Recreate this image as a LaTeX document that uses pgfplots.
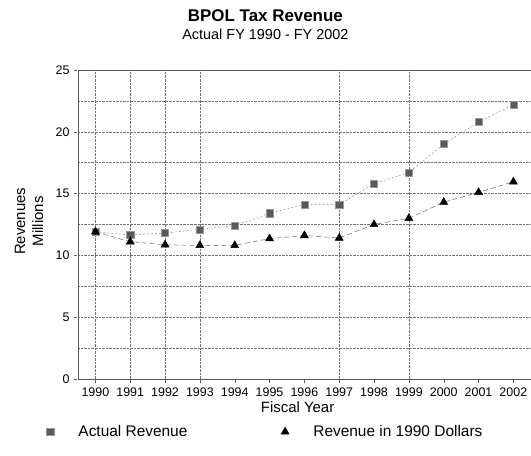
\documentclass[border=0pt]{standalone}
\usepackage{fontspec}
\setmainfont{Liberation Sans}
\usepackage{pgfplots}
\pgfplotsset{compat=1.18}
\begin{document}
\begin{tikzpicture}
\pgfplotstableread{
year actual real
1990 11.9 11.9
1991 11.65 11.1
1992 11.8 10.85
1993 12.1 10.8
1994 12.4 10.8
1995 13.4 11.35
1996 14.1 11.6
1997 14.1 11.4
1998 15.8 12.5
1999 16.7 13.0
2000 19.0 14.3
2001 20.8 15.1
2002 22.2 15.95
}\datatable
\begin{axis}[
  at={(0,0)}, anchor=south west,
  scale only axis, width=453bp, height=309bp,
  xmin=1989.5, xmax=2002.5, ymin=0, ymax=25,
  xtick={1990,...,2002},
  /pgf/number format/1000 sep={},
  /pgf/number format/assume math mode=true,
  ytick={0,5,...,25},
  minor ytick={2.5,7.5,...,22.5},
  ymajorgrids, yminorgrids,
  grid style={densely dotted, black!55, line width=0.4pt},
  minor grid style={densely dotted, black!55, line width=0.4pt},
  extra x ticks={1990,1991,1992,1993,1997,1999},
  extra x tick labels={},
  extra x tick style={grid=major},
  axis line style={black!65},
  major tick length=4bp, minor tick length=0pt,
  xtick style={black!65},
  ytick style={densely dotted, black!60},
  tick align=outside,
  tick pos=left,
  ticklabel style={font=\fontsize{12.5}{15}\selectfont},
  xticklabel style={yshift=-1bp},
  yticklabel style={xshift=-1bp},
  xlabel={Fiscal Year},
  xlabel style={at={(axis description cs:0.485,-0.092)}, anchor=center, font=\fontsize{15}{18}\selectfont},
  ylabel={Revenues\\Millions},
  ylabel style={at={(axis description cs:-0.108,0.51)}, anchor=center, align=center, font=\fontsize{15}{18}\selectfont},
  legend columns=2,
  legend style={draw=none, fill=none, inner sep=0pt, outer sep=0pt,
    at={(axis description cs:-0.0806,-0.1715)}, anchor=west,
    font=\fontsize{15.5}{18}\selectfont,
    /tikz/every odd column/.append style={column sep=19.5bp},
    /tikz/every even column/.append style={column sep=89bp},
    nodes={inner sep=0pt}},
  legend image code/.code={\draw[mark repeat=2,mark phase=2,draw opacity=0] plot coordinates {(0bp,0bp)(8.5bp,0bp)(17bp,0bp)};},
]
\addplot[black!45, dash pattern=on 2pt off 2pt, line width=0.5pt,
  mark=square*, mark size=3.6bp,
  mark options={solid, draw opacity=1, draw=black!40, fill=black!65}]
  table[x=year, y=actual] {\datatable};
\addlegendentry{Actual Revenue}
\addplot[black!60, dash pattern=on 5pt off 3pt, line width=0.5pt,
  mark=triangle*, mark size=4.6bp,
  mark options={solid, draw opacity=1, draw=black, fill=black}]
  table[x=year, y=real] {\datatable};
\addlegendentry{Revenue in 1990 Dollars}
\end{axis}
\node[font=\fontsize{17}{20}\selectfont\bfseries] at (187.5bp,363bp) {BPOL Tax Revenue};
\node[font=\fontsize{14.5}{17}\selectfont] at (187.5bp,345bp) {Actual FY 1990 - FY 2002};
\path[use as bounding box] (-78bp,-77bp) rectangle (453bp,379bp);
\end{tikzpicture}
\end{document}
